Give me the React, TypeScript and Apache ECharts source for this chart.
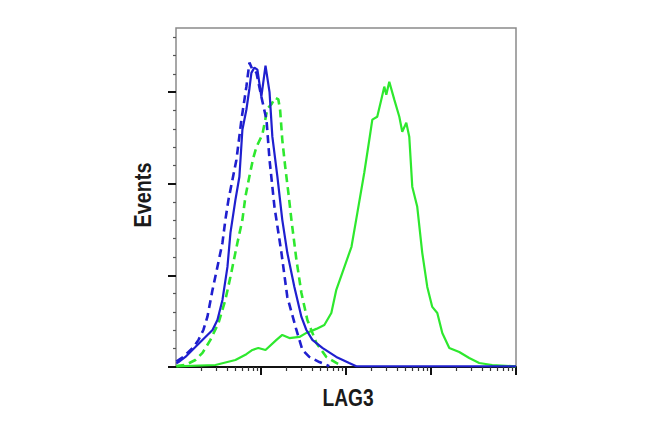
import React, { useEffect, useRef } from "react";
import * as echarts from "echarts";

// Axis titles
const xTitle = "LAG3";
const yTitle = "Events";

// Tick label values (decades and minor steps on the LAG3 log axis)
const xMajorTicks = [10, 100, 1000, 10000];
const xMinorTicks = [
  2, 3, 4, 5, 6, 7, 8, 9,
  20, 30, 40, 50, 60, 70, 80, 90,
  200, 300, 400, 500, 600, 700, 800, 900,
  2000, 3000, 4000, 5000, 6000, 7000, 8000, 9000,
];
const yMajorTicks = [0, 50, 100, 150];
const yMinorTicks = [10, 20, 30, 40, 60, 70, 80, 90, 110, 120, 130, 140, 160, 170, 180];

// [LAG3 intensity, events]
const blueSolid: [number, number][] = [
  [1.01, 2.0], [1.07, 2.7], [1.29, 5.5], [1.69, 10.9], [2.22, 16.4], [2.69, 20.2],
  [3.07, 25.7], [3.52, 36.6], [4.03, 54.6], [4.37, 73.2], [5.0, 91.2], [5.57, 103.8],
  [6.04, 129.5], [6.73, 140.4], [7.31, 152], [7.71, 160.5], [8.36, 163.4], [9.07, 162.3],
  [10.1, 147.5], [11.3, 164.5], [12.6, 150], [13.6, 125.7], [15.6, 103.8], [17.8, 80.3],
  [20.4, 62.3], [24.7, 43.7], [29.9, 27.3], [34.2, 20.2], [40.2, 14.8], [52.7, 10.4],
  [76.9, 5.5], [109, 2.2], [132, 0.4], [10000, 0.4],
];
const blueDashed: [number, number][] = [
  [1.01, 3.0], [1.07, 3.8], [1.22, 5.5], [1.61, 10.9], [1.84, 14.8], [2.1, 20.2],
  [2.34, 27.3], [2.69, 42.1], [3.07, 54.6], [3.52, 67.8], [3.81, 80.3], [4.14, 91.2],
  [5.14, 113.1], [5.89, 135], [6.73, 153], [7.31, 166.1], [7.93, 162.3], [8.83, 160.6],
  [10.1, 147.5], [11.6, 135], [12.6, 113.1], [14.4, 87.4], [17.4, 62.3], [20.4, 38.2],
  [26.1, 20.2], [30.7, 9.3], [37.0, 5.5], [48.6, 2.7], [63.6, 0.5],
];
const greenDashed: [number, number][] = [
  [1.01, 0.5], [1.29, 1.1], [1.69, 3.8], [2.05, 7.7], [2.54, 14.8], [3.16, 24.0],
  [3.81, 36.6], [4.37, 49.2], [5.28, 67.8], [6.04, 80.3], [6.56, 93], [7.3, 104],
  [8.1, 114], [8.83, 120], [10.4, 127], [11.9, 141], [13.3, 143.5], [14.7, 147],
  [16.0, 146], [16.8, 140], [17.8, 124], [19.3, 109], [21.0, 95], [22.8, 80.3],
  [26.1, 58.5], [29.9, 40.4], [35.1, 25.7], [44.8, 13.1], [58.7, 5.5], [76.9, 2.2], [90.5, 0.5],
];
const greenSolid: [number, number][] = [
  [1.01, 0.3], [2.91, 1.1], [5.0, 3.8], [6.73, 7.0], [7.93, 9.3], [9.3, 10.4],
  [11.3, 9.3], [15.2, 14.8], [17.8, 17.5], [21.6, 15.8], [28.3, 16.4], [34.2, 18.6],
  [44.8, 20.8], [55.6, 22.9], [67.2, 29.5], [76.9, 42.1], [90.5, 51.4], [116, 65.6],
  [136, 84.1], [164, 106], [188, 124], [204, 135], [233, 136.6], [260, 145.9],
  [282, 153], [298, 148.6], [323, 155.7], [370, 145.9], [424, 136.6], [459, 128.4],
  [512, 133.3], [555, 125.7], [602, 98.4], [689, 87.4], [789, 62.3], [904, 43.7],
  [1035, 32.8], [1186, 29.5], [1358, 18.6], [1641, 10.4], [2149, 8.2], [2816, 4.9],
  [3689, 2.2], [5250, 1.1], [10000, 0.3],
];

const BLUE = "#1f1fcf";
const GREEN = "#2ee82e";
const FONT = "'Liberation Sans', Arial, sans-serif";

export default function App() {
  const ref = useRef<HTMLDivElement>(null);

  useEffect(() => {
    if (!ref.current) return;
    const chart = echarts.init(ref.current, undefined, { renderer: "svg" });

    const tickAxisBase = {
      gridIndex: 0,
      position: "bottom",
      type: "value",
      min: 0,
      max: 4,
      axisLine: { show: false },
      axisLabel: { show: false },
      splitLine: { show: false },
    };

    chart.setOption({
      animation: false,
      backgroundColor: "#ffffff",
      grid: {
        left: 176,
        right: 134,
        top: 28,
        bottom: 71,
        show: true,
        borderColor: "#8a8a8a",
        borderWidth: 1.5,
        backgroundColor: "transparent",
      },
      graphic: [
        {
          type: "text",
          x: 348,
          y: 398,
          scaleX: 0.8,
          style: {
            text: xTitle,
            fontFamily: FONT,
            fontWeight: "bold",
            fontSize: 24,
            fill: "#1a1a1a",
            align: "center",
            verticalAlign: "middle",
          },
        },
        {
          type: "text",
          x: 143,
          y: 195,
          rotation: Math.PI / 2,
          scaleX: 0.86,
          style: {
            text: yTitle,
            fontFamily: FONT,
            fontWeight: "bold",
            fontSize: 23,
            fill: "#1a1a1a",
            align: "center",
            verticalAlign: "middle",
          },
        },
      ],
      xAxis: [
        {
          gridIndex: 0,
          position: "bottom",
          type: "log",
          logBase: 10,
          min: 1,
          max: 10000,
          axisLine: { show: true, lineStyle: { color: "#111111", width: 2 } },
          axisTick: { show: false },
          axisLabel: { show: false },
          splitLine: { show: false },
          minorTick: { show: false },
        },
        {
          ...tickAxisBase,
          axisTick: {
            show: true,
            length: 8,
            customValues: xMajorTicks.map((v) => Math.log10(v)),
            lineStyle: { color: "#111111", width: 2 },
          },
        },
        {
          ...tickAxisBase,
          axisTick: {
            show: true,
            length: 4,
            customValues: xMinorTicks.map((v) => Math.log10(v)),
            lineStyle: { color: "#333333", width: 1.2 },
          },
        },
      ],
      yAxis: [
        {
          gridIndex: 0,
          position: "left",
          type: "value",
          min: 0,
          max: 185,
          axisLine: { show: false },
          axisLabel: { show: false },
          splitLine: { show: false },
          axisTick: {
            show: true,
            length: 8,
            customValues: yMajorTicks,
            lineStyle: { color: "#111111", width: 2 },
          },
        },
        {
          gridIndex: 0,
          position: "left",
          type: "value",
          min: 0,
          max: 185,
          axisLine: { show: false },
          axisLabel: { show: false },
          splitLine: { show: false },
          axisTick: {
            show: true,
            length: 3,
            customValues: yMinorTicks,
            lineStyle: { color: "#555555", width: 1.2 },
          },
        },
      ],
      series: [
        {
          type: "line",
          name: "green solid",
          data: greenSolid,
          xAxisIndex: 0,
          yAxisIndex: 0,
          symbol: "none",
          lineStyle: { color: GREEN, width: 2.2 },
        },
        {
          type: "line",
          name: "green dashed",
          data: greenDashed,
          xAxisIndex: 0,
          yAxisIndex: 0,
          symbol: "none",
          lineStyle: { color: GREEN, width: 2.6, type: [8, 5] },
        },
        {
          type: "line",
          name: "blue dashed",
          data: blueDashed,
          xAxisIndex: 0,
          yAxisIndex: 0,
          symbol: "none",
          lineStyle: { color: BLUE, width: 2.6, type: [8, 5] },
        },
        {
          type: "line",
          name: "blue solid",
          data: blueSolid,
          xAxisIndex: 0,
          yAxisIndex: 0,
          symbol: "none",
          lineStyle: { color: BLUE, width: 2.2 },
        },
      ],
    });

    return () => chart.dispose();
  }, []);

  return (
    <div
      ref={ref}
      style={{ position: "fixed", left: 0, top: 0, width: 650, height: 438, background: "#fff" }}
    />
  );
}
